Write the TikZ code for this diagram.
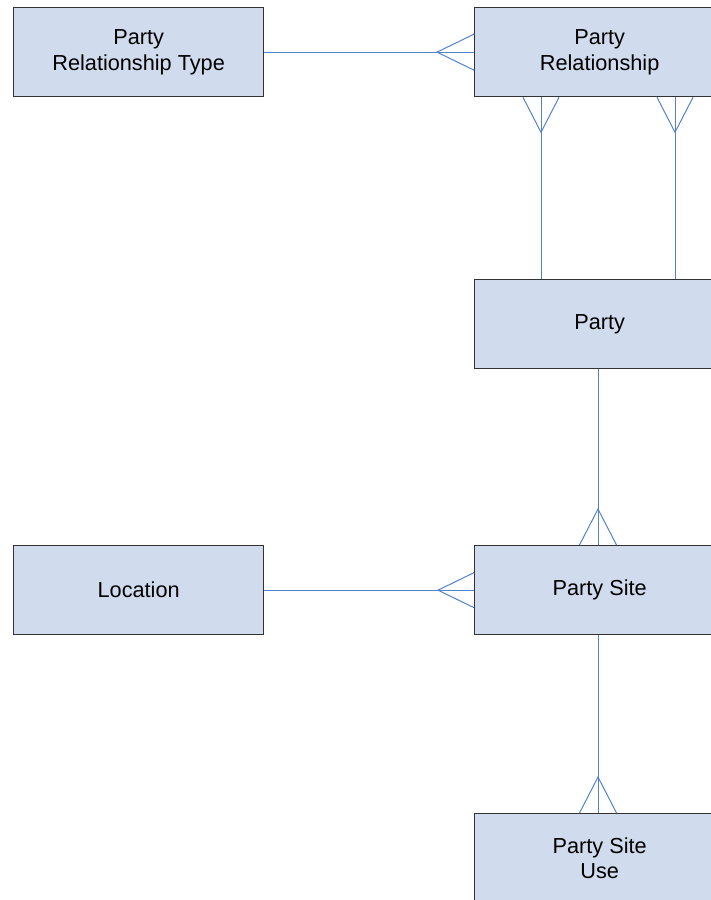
\documentclass[tikz,border=0pt]{standalone}
\usepackage{fontspec}
\setmainfont{Liberation Sans}
\usetikzlibrary{calc}
\definecolor{boxfill}{RGB}{208,220,237}
\definecolor{boxborder}{RGB}{50,50,50}
\definecolor{linkblue}{RGB}{84,130,200}
\begin{document}
\begin{tikzpicture}[x=1pt,y=-1pt,
  entity/.style={draw=boxborder, line width=1.3pt, fill=boxfill,
    minimum width=250pt, minimum height=89pt, inner sep=0pt, align=center,
    font=\fontsize{21.7}{25.5}\selectfont, anchor=north west},
  conn/.style={draw=linkblue, line width=1pt}]
\useasboundingbox (0,0) rectangle (711,900);
\begin{scope}
\clip (0,0) rectangle (711,900);
\node[entity] (PRT) at (13,7) {Party\\Relationship Type};
\node[entity] (PR) at (474,7) {Party\\Relationship};
\node[entity] (P) at (474,279) {Party};
\node[entity] (L) at (13,545) {Location};
\node[entity] (PS) at (474,545) {Party Site};
\node[entity] (PSU) at (474,813) {Party Site\\Use};

% Party Relationship Type -- Party Relationship
\coordinate (v1) at ($(PR.west)+(-37,0)$);
\draw[conn] (PRT.east) -- (PR.west);
\draw[conn] ($(PR.west)+(0,-18)$) -- (v1) -- ($(PR.west)+(0,18)$);

% Party Relationship -- Party (two links)
\coordinate (a1) at ($(PR.south west)+(67,0)$);
\coordinate (b1) at ($(P.north west)+(67,0)$);
\coordinate (va) at ($(a1)+(0,35)$);
\draw[conn] (a1) -- (b1);
\draw[conn] ($(a1)+(-18,0)$) -- (va) -- ($(a1)+(18,0)$);
\coordinate (a2) at ($(PR.south west)+(201,0)$);
\coordinate (b2) at ($(P.north west)+(201,0)$);
\coordinate (vb) at ($(a2)+(0,35)$);
\draw[conn] (a2) -- (b2);
\draw[conn] ($(a2)+(-18,0)$) -- (vb) -- ($(a2)+(18,0)$);

% Party -- Party Site
\coordinate (c1) at ($(P.south west)+(124,0)$);
\coordinate (c2) at ($(PS.north west)+(124,0)$);
\coordinate (vc) at ($(c2)+(0,-36)$);
\draw[conn] (c1) -- (c2);
\draw[conn] ($(c2)+(-18.5,0)$) -- (vc) -- ($(c2)+(18.5,0)$);

% Location -- Party Site
\coordinate (vl) at ($(PS.west)+(-36,0)$);
\draw[conn] (L.east) -- (PS.west);
\draw[conn] ($(PS.west)+(0,-17.5)$) -- (vl) -- ($(PS.west)+(0,17.5)$);

% Party Site -- Party Site Use
\coordinate (d1) at ($(PS.south west)+(124,0)$);
\coordinate (d2) at ($(PSU.north west)+(124,0)$);
\coordinate (vd) at ($(d2)+(0,-36)$);
\draw[conn] (d1) -- (d2);
\draw[conn] ($(d2)+(-18.5,0)$) -- (vd) -- ($(d2)+(18.5,0)$);
\end{scope}
\end{tikzpicture}
\end{document}
